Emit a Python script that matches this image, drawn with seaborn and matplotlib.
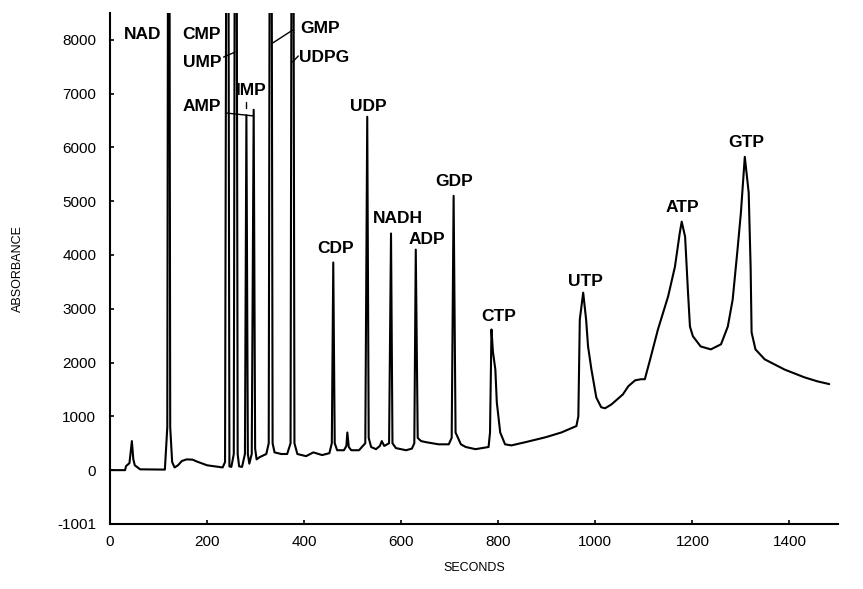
import matplotlib
matplotlib.use("Agg")
import matplotlib.pyplot as plt
import seaborn as sns
import pandas as pd

# chromatogram trace (seconds, absorbance)
seconds = [0, 31, 33, 40, 45, 48, 51, 62, 113, 118, 121, 124, 128, 133, 140, 148, 158, 170, 179, 200,
           232, 237, 242, 246, 250, 255, 259, 263, 266, 272, 278, 281, 284, 287, 292, 296, 299, 302,
           308, 322, 327, 331, 335, 339, 353, 365, 372, 376, 380, 386, 404, 419, 437, 452, 457, 460,
           463, 468, 482, 487, 489, 492, 497, 513, 526, 530, 533, 538, 548, 556, 560, 565, 575, 579,
           582, 589, 610, 622, 627, 630, 634, 641, 651, 677, 698, 704, 708, 712, 723, 733, 753, 780,
           783, 786, 789, 794, 797, 804, 814, 827, 856, 897, 930, 961, 965, 968, 975, 981, 985, 992,
           1002, 1012, 1020, 1033, 1057, 1068, 1082, 1094, 1102, 1113, 1129, 1150, 1164, 1174, 1178,
           1185, 1191, 1195, 1201, 1217, 1238, 1259, 1273, 1283, 1293, 1300, 1308, 1316, 1320, 1322,
           1330, 1349, 1390, 1431, 1458, 1482]
absorbance = [0, 0, 75, 130, 540, 200, 90, 15, 10, 800, 20000, 800, 150, 50, 90, 170, 200, 195, 160, 90,
              50, 150, 20000, 70, 60, 300, 20000, 300, 70, 60, 300, 6600, 300, 120, 300, 6700, 400, 200,
              240, 300, 500, 20000, 500, 330, 300, 300, 500, 20000, 500, 300, 260, 330, 280, 315, 500, 3860,
              500, 370, 370, 450, 700, 430, 370, 370, 500, 6570, 600, 430, 390, 450, 540, 450, 500, 4400,
              500, 410, 370, 400, 500, 4100, 600, 540, 520, 480, 480, 600, 5100, 700, 480, 430, 390, 430,
              700, 2615, 2200, 1870, 1260, 700, 480, 460, 520, 610, 700, 820, 1000, 2800, 3300, 2800, 2300, 1870,
              1350, 1170, 1150, 1220, 1410, 1560, 1670, 1690, 1690, 2060, 2615, 3230, 3780, 4410, 4620,
              4340, 3300, 2670, 2490, 2300, 2245, 2340, 2670, 3170, 4100, 4790, 5825, 5160, 3780, 2560,
              2245, 2060, 1870, 1725, 1650, 1600]

# peak labels
peak_names = ["NAD", "CMP", "UMP", "AMP", "IMP", "GMP", "UDPG", "UDP", "CDP", "NADH", "ADP",
              "GDP", "CTP", "UTP", "ATP", "GTP"]
label_x = [68, 189, 189, 189, 292, 433, 441, 532, 464, 593, 653, 710, 800, 980, 1180, 1310]
label_y = [8106, 8106, 7587, 6752, 7050, 8220, 7680, 6770, 4120, 4675, 4285, 5360, 2857, 3506, 4880, 6100]

# leader lines (x0, x1, y0, y1)
leaders = [(234, 257, 7680, 7770),   # UMP
           (238, 296, 6641, 6585),   # AMP
           (281, 281, 6845, 6734),   # IMP
           (335, 376, 7940, 8180),   # GMP
           (376, 388, 7590, 7700)]   # UDPG

y_ticks = [-1001, 0, 1000, 2000, 3000, 4000, 5000, 6000, 7000, 8000]
x_ticks = [0, 200, 400, 600, 800, 1000, 1200, 1400]

df = pd.DataFrame({"seconds": seconds, "absorbance": absorbance})

sns.set_style("ticks")
plt.rcParams["font.family"] = ["Liberation Sans", "DejaVu Sans"]
plt.rcParams.update({"text.color": "black", "axes.labelcolor": "black",
                     "xtick.color": "black", "ytick.color": "black",
                     "axes.edgecolor": "black"})

fig = plt.figure(figsize=(8.63, 5.89), dpi=100)
ax = fig.add_axes([0.1275, 0.1104, 0.8435, 0.8676])

sns.lineplot(data=df, x="seconds", y="absorbance", estimator=None, sort=False,
             color="black", linewidth=1.5, ax=ax)

for x0, x1, y0, y1 in leaders:
    ax.plot([x0, x1], [y0, y1], color="black", linewidth=1)

for name, x, y in zip(peak_names, label_x, label_y):
    ax.text(x, y, name, ha="center", va="center", fontsize=12.5, fontweight="bold")

ax.set_xlim(0, 1500)
ax.set_ylim(-1001, 8500)
ax.set_xticks(x_ticks)
ax.set_yticks(y_ticks)
ax.set_yticklabels([str(t) for t in y_ticks])
ax.tick_params(axis="both", direction="in", length=3, width=1.2, labelsize=11)
ax.tick_params(axis="y", pad=10)
ax.tick_params(axis="x", pad=8)
ax.set_xlabel("SECONDS", fontsize=9, labelpad=9)
ax.set_ylabel("ABSORBANCE", fontsize=9, labelpad=24)
for s in ["left", "bottom"]:
    ax.spines[s].set_linewidth(1.5)
sns.despine(ax=ax)

fig.savefig("out.png", dpi=100)
